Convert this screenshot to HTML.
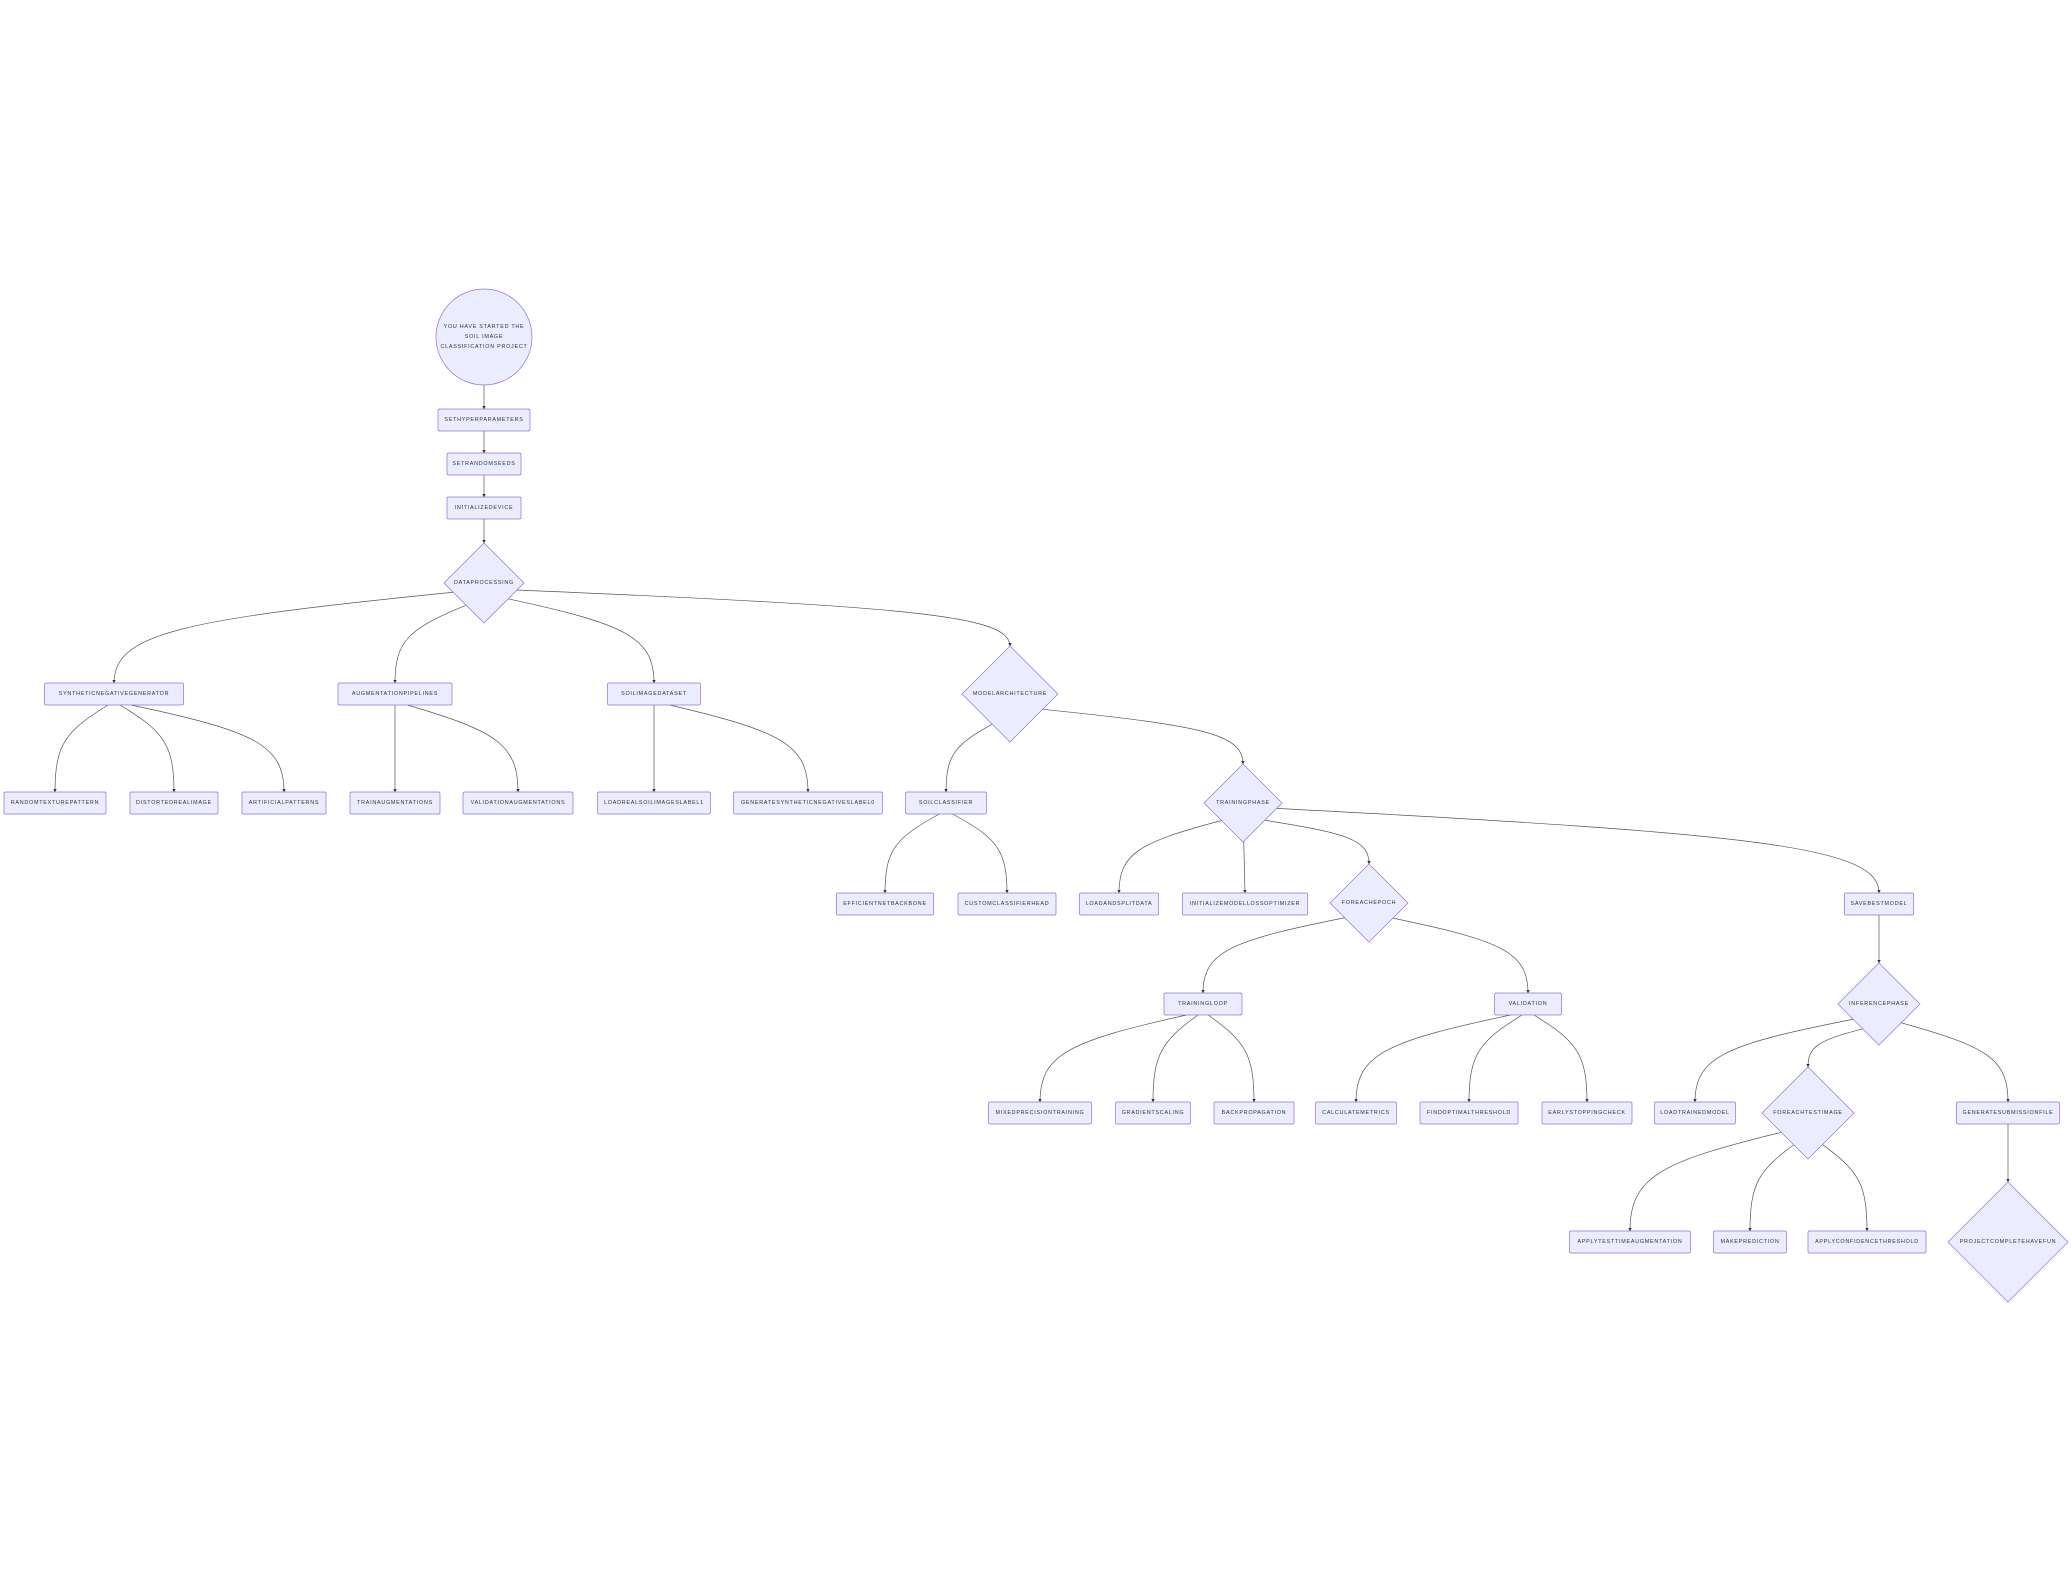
<!DOCTYPE html>
<html><head><meta charset="utf-8">
<style>
html,body{margin:0;padding:0;background:#fff;}
svg{display:block;}
text{font-family:"Liberation Sans","DejaVu Sans",sans-serif;font-size:5.4px;letter-spacing:0.75px;fill:#333;text-anchor:middle;dominant-baseline:central;}
.node{fill:#ECECFF;stroke:#9370DB;stroke-width:0.7;}
.edge{fill:none;stroke:#555;stroke-width:0.7;}
</style></head>
<body>
<svg id="chart" width="2072" height="1592" viewBox="0 0 2072 1592">
<defs><marker id="arr" viewBox="0 0 10 10" refX="9" refY="5" markerWidth="5" markerHeight="5" orient="auto"><path d="M0,0L10,5L0,10z" fill="#333"/></marker></defs>
<g id="edges"></g><g id="nodes"></g>
</svg>
<script>
// node ids, labels, shapes, centers and sizes
const nodeIds=["start","hyp","seeds","dev","dp","sng","aug","sid","ma","rtp","dri","ap","ta","va","lrs","gsn","sc","tp","eff","cch","lsd","imo","fee","sbm","tl","val","ip","mpt","gs","bp","cm","fot","esc","ltm","fti","gsf","atta","mp","act","pch"];
const nodeLabels=["YOU HAVE STARTED THE|SOIL IMAGE|CLASSIFICATION PROJECT","SETHYPERPARAMETERS","SETRANDOMSEEDS","INITIALIZEDEVICE","DATAPROCESSING","SYNTHETICNEGATIVEGENERATOR","AUGMENTATIONPIPELINES","SOILIMAGEDATASET","MODELARCHITECTURE","RANDOMTEXTUREPATTERN","DISTORTEDREALIMAGE","ARTIFICIALPATTERNS","TRAINAUGMENTATIONS","VALIDATIONAUGMENTATIONS","LOADREALSOILIMAGESLABEL1","GENERATESYNTHETICNEGATIVESLABEL0","SOILCLASSIFIER","TRAININGPHASE","EFFICIENTNETBACKBONE","CUSTOMCLASSIFIERHEAD","LOADANDSPLITDATA","INITIALIZEMODELLOSSOPTIMIZER","FOREACHEPOCH","SAVEBESTMODEL","TRAININGLOOP","VALIDATION","INFERENCEPHASE","MIXEDPRECISIONTRAINING","GRADIENTSCALING","BACKPROPAGATION","CALCULATEMETRICS","FINDOPTIMALTHRESHOLD","EARLYSTOPPINGCHECK","LOADTRAINEDMODEL","FOREACHTESTIMAGE","GENERATESUBMISSIONFILE","APPLYTESTTIMEAUGMENTATION","MAKEPREDICTION","APPLYCONFIDENCETHRESHOLD","PROJECTCOMPLETEHAVEFUN"];
const nodeShapes=["c","r","r","r","d","r","r","r","d","r","r","r","r","r","r","r","r","d","r","r","r","r","d","r","r","r","d","r","r","r","r","r","r","r","d","r","r","r","r","d"];
const nodeX=[484,484,484,484,484,114,395,654,1010,55,174,284,395,518,654,808,946,1243,885,1007,1119,1245,1369,1879,1203,1528,1879,1040,1153,1254,1356,1469,1587,1695,1808,2008,1630,1750,1867,2008];
const nodeY=[337,420,464,508,583,694,694,694,694,803,803,803,803,803,803,803,803,803,904,904,904,904,903,904,1004,1004,1004,1113,1113,1113,1113,1113,1113,1113,1113,1113,1242,1242,1242,1242];
const nodeW=[96,92,74,74,80,139,114,93,96,102,88,84,90,110,113,149,81,78,97,98,79,125,78,69,78,67,82,103,75,80,81,98,90,81,92,103,121,73,118,120];
const nodeH=[96,22,22,22,80,22,22,22,96,22,22,22,22,22,22,22,22,78,22,22,22,22,78,22,22,22,82,22,22,22,22,22,22,22,92,22,22,22,22,120];
const edgeFrom=["start","hyp","seeds","dev","dp","dp","dp","dp","sng","sng","sng","aug","aug","sid","sid","ma","ma","sc","sc","tp","tp","tp","tp","fee","fee","tl","tl","tl","val","val","val","sbm","ip","ip","ip","fti","fti","fti","gsf"];
const edgeTo=["hyp","seeds","dev","dp","sng","aug","sid","ma","rtp","dri","ap","ta","va","lrs","gsn","sc","tp","eff","cch","lsd","imo","fee","sbm","tl","val","mpt","gs","bp","cm","fot","esc","ip","ltm","fti","gsf","atta","mp","act","pch"];

const NS="http://www.w3.org/2000/svg";
const gN=document.getElementById("nodes"),gE=document.getElementById("edges");
const idx={};nodeIds.forEach((id,i)=>idx[id]=i);
function mk(t,a){const e=document.createElementNS(NS,t);for(const k in a)e.setAttribute(k,a[k]);return e;}

nodeIds.forEach((id,i)=>{
  const g=mk("g",{});
  
  
  const x=nodeX[i],y=nodeY[i],w=nodeW[i],h=nodeH[i];
  let s;
  if(nodeShapes[i]==="c") s=mk("circle",{cx:x,cy:y,r:w/2,class:"node"});
  else if(nodeShapes[i]==="d") s=mk("polygon",{points:`${x},${y-h/2} ${x+w/2},${y} ${x},${y+h/2} ${x-w/2},${y}`,class:"node"});
  else s=mk("rect",{x:x-w/2,y:y-h/2,width:w,height:h,rx:1.5,class:"node"});
  g.appendChild(s);
  const lines=nodeLabels[i].split("|");
  lines.forEach((l,j)=>{const t=mk("text",{x:x,y:y+(j-(lines.length-1)/2)*10});t.textContent=l;g.appendChild(t);});
  gN.appendChild(g);
});

function startPt(i,tx,ty){
  const x=nodeX[i],y=nodeY[i],w=nodeW[i],h=nodeH[i],sh=nodeShapes[i];
  const dx=tx-x,dy=ty-y;
  if(sh==="c"){const L=Math.hypot(dx,dy);return [x+dx/L*w/2,y+dy/L*w/2];}
  if(sh==="d"){const t=1/(Math.abs(dx)/(w/2)+Math.abs(dy)/(h/2));return [x+dx*t,y+dy*t];}
  const t=Math.min((h/2)/Math.abs(dy), Math.abs(dx)>0?(w/2)/Math.abs(dx):1e9);
  return [x+dx*t,y+dy*t];
}
edgeFrom.forEach((f,k)=>{
  const a=idx[f],b=idx[edgeTo[k]];
  const tx=nodeX[b],ty=nodeY[b]-nodeH[b]/2;
  const [sx,sy]=startPt(a,tx,nodeY[b]);
  const dy=ty-sy;
  const d=Math.abs(tx-sx)<2?`M${sx},${sy}L${tx},${ty}`:
    `M${sx},${sy}C${sx+(tx-sx)*0.8},${sy+dy*0.3} ${tx},${ty-dy*0.55} ${tx},${ty}`;
  const p=mk("path",{d:d,class:"edge","marker-end":"url(#arr)"});
  
  
  gE.appendChild(p);
});
</script>
</body></html>
